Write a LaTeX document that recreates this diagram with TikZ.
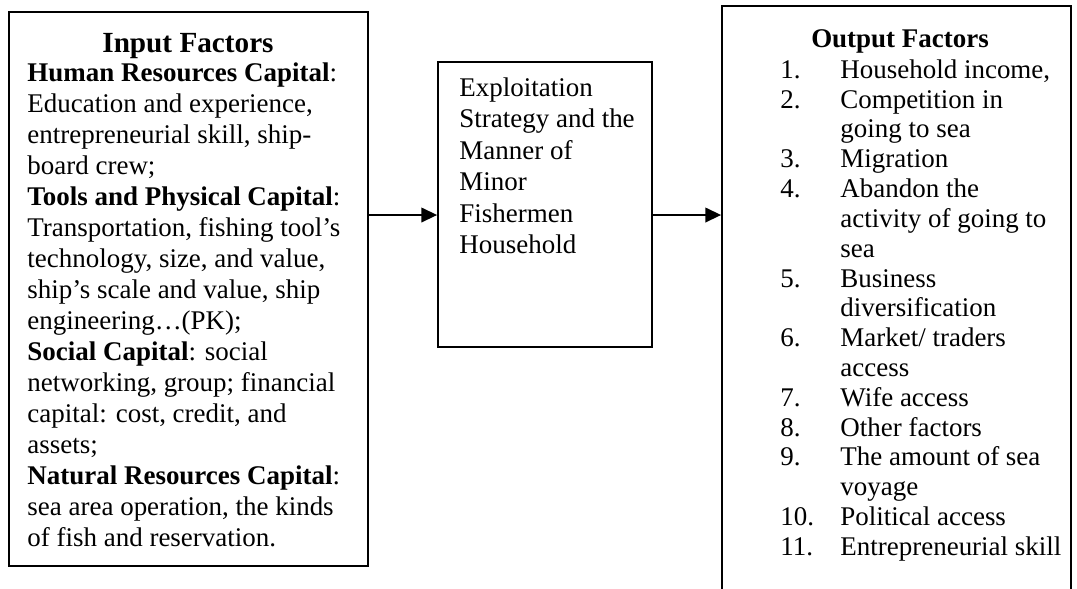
\documentclass[tikz,border=0pt]{standalone}
\usepackage{fontspec}
\setmainfont{Liberation Serif}
\usetikzlibrary{arrows.meta,fit}
\begin{document}
\begin{tikzpicture}[x=0.445pt,y=-0.445pt,
  box/.style={draw,line width=0.8pt,inner sep=0pt},
  conn/.style={line width=0.8pt,-{Triangle[length=7pt,width=6.5pt]}},
  txt/.style={inner sep=0pt,font=\fontsize{12}{13.8}\selectfont,align=left}]
\useasboundingbox (0,0) rectangle (1077,588);
% boxes
\node[box,fit={(9,12)(368,566)}] (in) {};
\node[box,fit={(438,62)(652,347)}] (mid) {};
\node[box,fit={(722,6)(1071,600)}] (out) {};
% input texts
\node[txt,anchor=base,font=\fontsize{13}{15}\selectfont\bfseries] (intitle) at (188,52) {Input Factors};
\node[txt,anchor=north west] (inbody) at (27,59.3) {\strut\textbf{Human Resources Capital}:\\
Education and experience,\\
entrepreneurial skill, ship-\\
board crew;\\
\textbf{Tools and Physical Capital}:\\
Transportation, fishing tool’s\\
technology, size, and value,\\
ship’s scale and value, ship\\
engineering\ldots(PK);\\
\textbf{Social Capital}: social\\
networking, group; financial\\
capital: cost, credit, and\\
assets;\\
\textbf{Natural Resources Capital}:\\
sea area operation, the kinds\\
of fish and reservation.};
% middle text
\node[txt,anchor=north west,font=\fontsize{12}{14}\selectfont] (midtext) at (459,74) {\strut Exploitation\\
Strategy and the\\
Manner of\\
Minor\\
Fishermen\\
Household};
% output texts
\node[txt,anchor=base,font=\fontsize{12}{14}\selectfont\bfseries] (outtitle) at (900,47) {Output Factors};
\node[txt,anchor=north west,font=\fontsize{12}{13.27}\selectfont] (outlist) at (780,57) {\begin{tabular}{@{}p{26.7pt}@{}l@{}}
1. & Household income,\\
2. & Competition in\\
   & going to sea\\
3. & Migration\\
4. & Abandon the\\
   & activity of going to\\
   & sea\\
5. & Business\\
   & diversification\\
6. & Market/ traders\\
   & access\\
7. & Wife access\\
8. & Other factors\\
9. & The amount of sea\\
   & voyage\\
10. & Political access\\
11. & Entrepreneurial skill
\end{tabular}};
% connectors
\coordinate (ay) at (0,215);
\draw[conn] (in.east |- ay) -- (mid.west |- ay);
\draw[conn] (mid.east |- ay) -- (out.west |- ay);
\end{tikzpicture}
\end{document}
